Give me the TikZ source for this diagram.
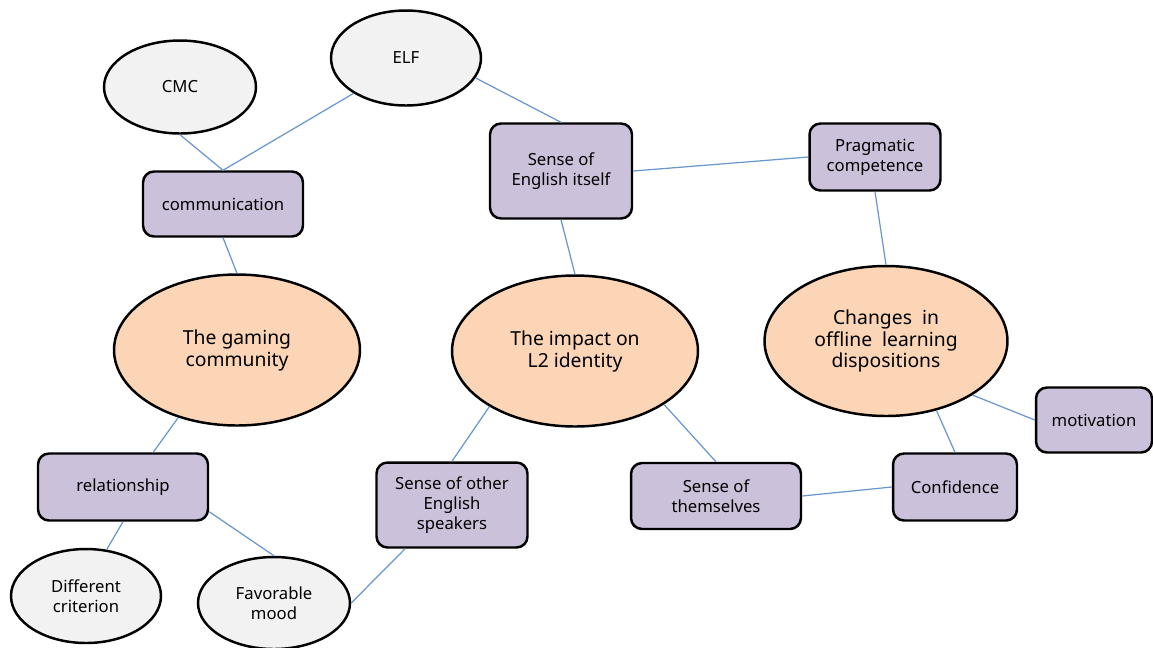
\documentclass[tikz,border=0pt]{standalone}
\usepackage{fontspec}
\setmainfont{Noto Sans}
\usepackage{tikz}
\usetikzlibrary{shapes,
  positioning
}
\definecolor{themeorange}{RGB}{251,213,181}
\definecolor{themepurple}{RGB}{204,193,218}
\definecolor{themegrey}{RGB}{242,242,242}
\definecolor{linkblue}{RGB}{104,150,206}

\begin{document}
\begin{tikzpicture}[x=0.02cm,y=-0.02cm,
  theme/.style={ellipse,draw=black,line width=1.4pt,fill=themeorange,
    inner sep=0pt,align=center,font=\fontsize{11}{12.5}\selectfont},
  sub/.style={rectangle,rounded corners=0.22cm,draw=black,line width=1.4pt,
    fill=themepurple,inner sep=0pt,align=center,
    font=\fontsize{9.5}{11.3}\selectfont},
  leaf/.style={ellipse,draw=black,line width=1.4pt,fill=themegrey,
    inner sep=0pt,align=center,font=\fontsize{9.5}{11.3}\selectfont},
  link/.style={draw=linkblue,line width=0.7pt}
  ]
  \useasboundingbox (0,0) rectangle (1153,647);

  % themes
  \node[theme,minimum width=4.92cm,minimum height=3.02cm] (gaming) at (237,350)
  {The gaming\\community};
  \node[theme,minimum width=4.92cm,minimum height=3.02cm] (impact) at (575,351)
  {The impact on\\L2 identity};
  \node[theme,minimum width=4.86cm,minimum height=3.0cm] (changes) at (886,341)
  {Changes\ \ in\\offline\ \ learning\\dispositions};

  % sub themes
  \node[sub,minimum width=3.2cm,minimum height=1.3cm] (comm) at (223,204)
  {communication};
  \node[sub,minimum width=2.84cm,minimum height=1.9cm] (sense) at (561,171)
  {Sense of\\English itself};
  \node[sub,minimum width=2.62cm,minimum height=1.34cm] (prag) at (875,157)
  {Pragmatic\\competence};
  \node[sub,minimum width=3.4cm,minimum height=1.34cm] (rel) at (123,487)
  {relationship};
  \node[sub,minimum width=3.02cm,minimum height=1.7cm] (other) at (452,505)
  {Sense of other\\English\\speakers};
  \node[sub,minimum width=3.4cm,minimum height=1.32cm] (them) at (716,496)
  {Sense of\\themselves};
  \node[sub,minimum width=2.48cm,minimum height=1.34cm] (conf) at (955,487)
  {Confidence};
  \node[sub,minimum width=2.32cm,minimum height=1.3cm] (mot) at (1094,420)
  {motivation};

  % leaves
  \node[leaf,minimum width=3.04cm,minimum height=1.86cm] (cmc) at (180,87) {CMC};
  \node[leaf,minimum width=3.0cm,minimum height=1.9cm] (elf) at (406,58) {ELF};
  \node[leaf,minimum width=3.0cm,minimum height=1.88cm] (diff) at (86,596)
  {Different\\criterion};
  \node[leaf,minimum width=3.04cm,minimum height=1.84cm] (fav) at (274,603)
  {Favorable\\mood};

  % links
  \draw[link] (cmc.south) -- (comm.north);
  \draw[link] (elf.214) -- (comm.north);
  \draw[link] (elf.344) -- (sense.north);
  \draw[link] (sense.east) -- (prag.west);
  \draw[link] (sense.south) -- (impact.north);
  \draw[link] (comm.south) -- (gaming.north);
  \draw[link] (prag.south) -- (changes.north);
  \draw[link] (gaming.229) -- (rel.49);
  \draw[link] (rel.south) -- (diff.66);
  \draw[link] (rel.-16) -- (fav.north);
  \draw[link] (fav.east) -- (other.223);
  \draw[link] (impact.213) -- (other.north);
  \draw[link] (impact.329) -- (them.north);
  \draw[link] (them.east) -- (conf.west);
  \draw[link] (changes.306) -- (conf.north);
  \draw[link] (changes.328) -- (mot.west);
\end{tikzpicture}
\end{document}
